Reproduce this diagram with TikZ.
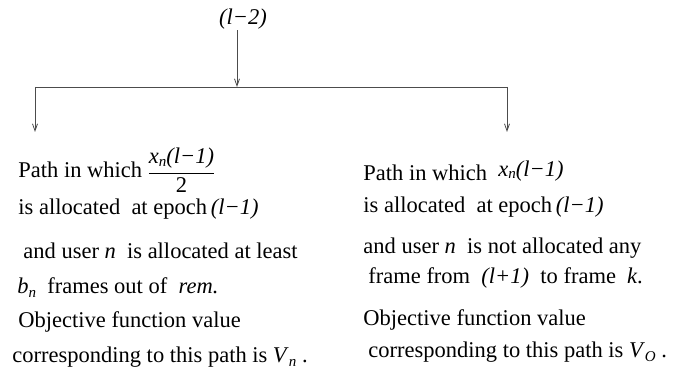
\documentclass[tikz,border=0pt]{standalone}
\usepackage{fontspec}
\setmainfont{Liberation Serif}
\usetikzlibrary{arrows.meta}
\newcommand{\subdn}[1]{\raisebox{-0.45ex}{\fontsize{15}{15}\selectfont\itshape #1}}
\newcommand{\subup}[1]{\raisebox{-0.2ex}{\fontsize{15}{15}\selectfont\itshape #1}}

\begin{document}
\begin{tikzpicture}[x=1pt, y=-1pt, >={Straight Barb[length=7pt,width=5pt]}, line width=0.8pt,
  txt/.style={anchor=base west, inner sep=0pt, font=\fontsize{22.5}{26}\selectfont},
  branch/.style={draw=black!70}]
  \useasboundingbox (0,0) rectangle (690,374);
  % epoca de arriba
  \node[txt, anchor=base] (top) at (243,25) {\textit{(l−2)}};
  % ramas
  \coordinate (split) at (237,87);
  \coordinate (lcorner) at (35,87);
  \coordinate (rcorner) at (507,87);
  \coordinate (ltip) at (35,132);
  \coordinate (rtip) at (507,132);
  \draw[branch, ->] (top.south -| split) -- (split);
  \draw[branch] (lcorner) -- (rcorner);
  \draw[branch, ->] (lcorner) -- (ltip);
  \draw[branch, ->] (rcorner) -- (rtip);
  % camino izquierdo
  \node[txt] (lpath) at (18,178) {Path in which $\displaystyle\frac{\mbox{\textit{x}\subup{n}\textit{(l−1)}}}{\mbox{2}}$};
  \node[txt] (lalloc) at (18,214) {is allocated\ \ at epoch\,\textit{(l−1)}};
  \node[txt] (luser) at (23,258) {and user \textit{n}\ \ is allocated at least};
  \node[txt] (lframes) at (17,293) {\textit{b}\subdn{n}\ \ frames out of\ \ \textit{rem.}};
  \node[txt] (lobj) at (18,327) {Objective function value};
  \node[txt] (lval) at (12,362) {corresponding to this path is \textit{V}\subdn{n}\ .};
  % camino derecho
  \node[txt] (rpath) at (363,180) {Path in which\ \ \raisebox{4pt}{\textit{x}\subup{n}\textit{(l−1)}}};
  \node[txt] (ralloc) at (363,212) {is allocated\ \ at epoch\,\textit{(l−1)}};
  \node[txt] (ruser) at (363,253) {and user \textit{n}\ \ is not allocated any};
  \node[txt] (rframe) at (368,283) {frame from\ \ \textit{(l+1)}\ \ to frame\ \ \textit{k}.};
  \node[txt] (robj) at (363,325) {Objective function value};
  \node[txt] (rval) at (368,357) {corresponding to this path is \textit{V}\subdn{O}\ .};
\end{tikzpicture}
\end{document}
